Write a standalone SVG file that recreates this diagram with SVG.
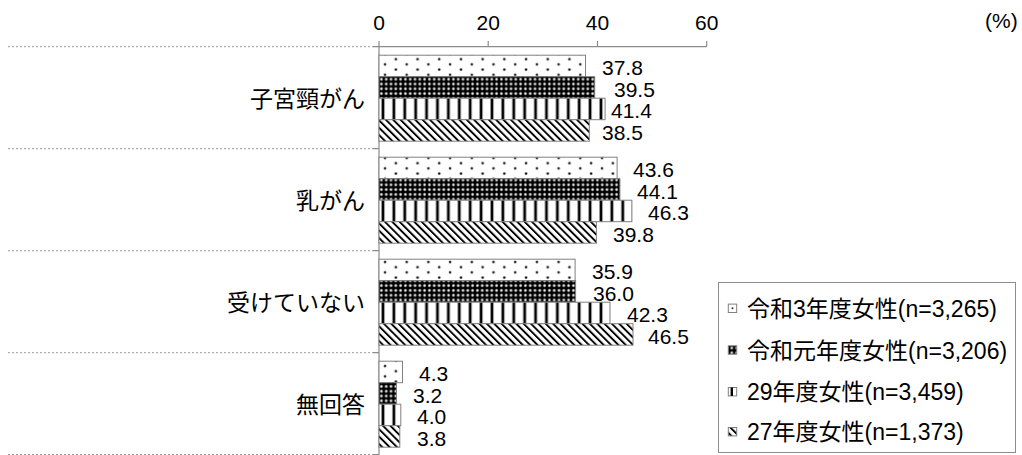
<svg xmlns="http://www.w3.org/2000/svg" width="1022" height="455" viewBox="0 0 1022 455">
<style>
text{font-family:"Liberation Sans","Noto Sans CJK JP",sans-serif;fill:#000}
.tick{font-size:21px;text-anchor:middle}
.val{font-size:21px}
.cat{font-size:23px;text-anchor:end}
.leg{font-size:23px}
.bar{stroke:#808080;stroke-width:1}
.sep{stroke:#9a9a9a;stroke-width:1;stroke-dasharray:2 2}
.ax{stroke:#8c8c8c;stroke-width:1.2;fill:none}
.p1{fill:url(#pDots)}.p2{fill:url(#pCheck)}.p3{fill:url(#pVert)}.p4{fill:url(#pDiag)}
</style>
<defs>
<pattern id="pDots" patternUnits="userSpaceOnUse" x="379" y="0" width="21.7" height="10.4">
<rect width="21.7" height="10.4" fill="#fff"/>
<circle cx="6" cy="2" r="1.5" fill="#888"/>
<circle cx="6" cy="2" r="1" fill="#111"/>
<circle cx="16.85" cy="7.2" r="1.5" fill="#888"/>
<circle cx="16.85" cy="7.2" r="1" fill="#111"/>
</pattern>
<pattern id="pCheck" patternUnits="userSpaceOnUse" x="379" y="0" width="4.8" height="4.8">
<rect width="4.8" height="4.8" fill="#000"/>
<circle cx="2.4" cy="2.4" r="1.6" fill="#777"/>
<circle cx="2.4" cy="2.4" r="0.9" fill="#fff"/>
</pattern>
<pattern id="pVert" patternUnits="userSpaceOnUse" x="379" y="0" width="10.9" height="10">
<rect width="10.9" height="10" fill="#fff"/>
<rect x="2" width="1" height="10" fill="#999"/>
<rect x="3" width="2" height="10" fill="#000"/>
<rect x="5" width="1" height="10" fill="#999"/>
</pattern>
<pattern id="pDiag" patternUnits="userSpaceOnUse" width="5.2" height="5.2" patternTransform="rotate(-45)">
<rect width="5.2" height="5.2" fill="#fff"/>
<rect width="1.9" height="5.2" fill="#000"/>
</pattern>
</defs>
<rect width="1022" height="455" fill="#fff"/>

<g id="axis">
<line class="sep" x1="8" y1="46.7" x2="373" y2="46.7"/>
<line class="sep" x1="8" y1="148.7" x2="373" y2="148.7"/>
<line class="sep" x1="8" y1="250.7" x2="373" y2="250.7"/>
<line class="sep" x1="8" y1="352.7" x2="373" y2="352.7"/>
<line class="sep" x1="8" y1="454.5" x2="373" y2="454.5"/>
<path class="ax" d="M373 46.7H379M373 148.7H379M373 250.7H379M373 352.7H379M373 454.5H379"/>
<path class="ax" d="M379 41V455M379 46.7H706.7M488.2 41V46.7M597.5 41V46.7M706.7 41V46.7"/>
<text class="tick" x="379" y="29.5">0</text>
<text class="tick" x="488.2" y="29.5">20</text>
<text class="tick" x="597.5" y="29.5">40</text>
<text class="tick" x="706.7" y="29.5">60</text>
<text x="985" y="28" style="font-size:21px">(%)</text>
</g>

<g id="cat-shikyu">
<text class="cat" x="365" y="106.7">子宮頸がん</text>
<rect class="bar p1" x="379" y="55.2" width="206.5" height="21.5"/>
<rect class="bar p2" x="379" y="76.7" width="215.7" height="21.5"/>
<rect class="bar p3" x="379" y="98.2" width="226.1" height="21.5"/>
<rect class="bar p4" x="379" y="119.7" width="210.3" height="21.5"/>
<text class="val" x="602" y="75">37.8</text>
<text class="val" x="614" y="96.5">39.5</text>
<text class="val" x="611" y="118">41.4</text>
<text class="val" x="602" y="139.5">38.5</text>
</g>

<g id="cat-nyu">
<text class="cat" x="365" y="208.7">乳がん</text>
<rect class="bar p1" x="379" y="157.2" width="238.1" height="21.5"/>
<rect class="bar p2" x="379" y="178.7" width="240.9" height="21.5"/>
<rect class="bar p3" x="379" y="200.2" width="252.9" height="21.5"/>
<rect class="bar p4" x="379" y="221.7" width="217.4" height="21.5"/>
<text class="val" x="633" y="177">43.6</text>
<text class="val" x="637" y="198.5">44.1</text>
<text class="val" x="648" y="220">46.3</text>
<text class="val" x="613" y="241.5">39.8</text>
</g>

<g id="cat-none">
<text class="cat" x="365" y="310.7">受けていない</text>
<rect class="bar p1" x="379" y="259.2" width="196.1" height="21.5"/>
<rect class="bar p2" x="379" y="280.7" width="196.6" height="21.5"/>
<rect class="bar p3" x="379" y="302.2" width="231" height="21.5"/>
<rect class="bar p4" x="379" y="323.7" width="254" height="21.5"/>
<text class="val" x="592" y="279">35.9</text>
<text class="val" x="593" y="300.5">36.0</text>
<text class="val" x="627" y="322">42.3</text>
<text class="val" x="648" y="343.5">46.5</text>
</g>

<g id="cat-noanswer">
<text class="cat" x="365" y="412.7">無回答</text>
<rect class="bar p1" x="379" y="361.2" width="23.5" height="21.5"/>
<rect class="bar p2" x="379" y="382.7" width="17.5" height="21.5"/>
<rect class="bar p3" x="379" y="404.2" width="21.8" height="21.5"/>
<rect class="bar p4" x="379" y="425.7" width="20.8" height="21.5"/>
<text class="val" x="419" y="381">4.3</text>
<text class="val" x="413" y="402.5">3.2</text>
<text class="val" x="417" y="424">4.0</text>
<text class="val" x="417" y="445.5">3.8</text>
</g>

<g id="legend">
<rect x="718.5" y="282.5" width="297" height="170" fill="#fff" stroke="#8c8c8c" stroke-width="1"/>
<rect class="bar" x="728.3" y="304.1" width="8.4" height="8.4" fill="#fff"/>
<circle cx="732.5" cy="308.3" r="1" fill="#333"/>
<rect class="bar p2" x="728.3" y="345.8" width="8.4" height="8.4"/>
<rect class="bar" x="728.3" y="387.5" width="8.4" height="8.4" fill="#fff"/>
<rect x="730.6" y="387.5" width="2.4" height="8.4" fill="#000"/>
<rect class="bar p4" x="728.3" y="427.5" width="8.4" height="8.4"/>
<text class="leg" x="747" y="316.8">令和3年度女性(n=3,265)</text>
<text class="leg" x="747" y="358.5">令和元年度女性(n=3,206)</text>
<text class="leg" x="747" y="400.2">29年度女性(n=3,459)</text>
<text class="leg" x="747" y="440.2">27年度女性(n=1,373)</text>
</g>
</svg>
